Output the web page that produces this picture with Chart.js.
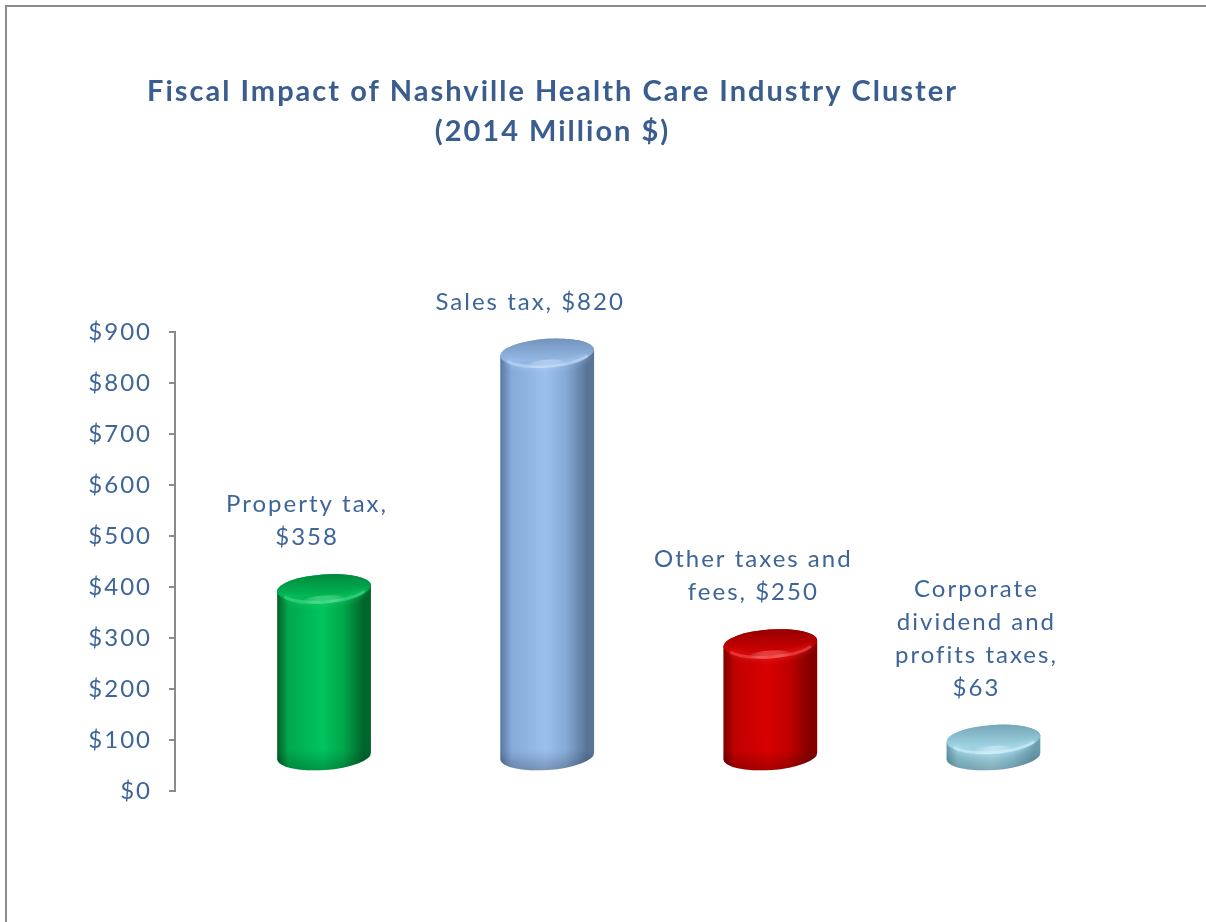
<!DOCTYPE html>
<html>
<head>
<meta charset="utf-8">
<title>Fiscal Impact of Nashville Health Care Industry Cluster</title>
<script src="https://cdn.jsdelivr.net/npm/chart.js@4.4.1/dist/chart.umd.min.js"></script>
<style>
  html, body { margin: 0; padding: 0; background: #fff; overflow: hidden; }
  #wrap { position: relative; width: 1206px; height: 922px; }
  #frame {
    position: absolute; left: 5px; top: 5px; width: 1300px; height: 1000px;
    border-top: 2px solid #8c8c8c; border-left: 2px solid #8c8c8c;
    pointer-events: none;
  }
</style>
</head>
<body>
<div id="wrap">
  <canvas id="chart"></canvas>
  <div id="frame"></div>
</div>
<script>
// revenue by tax type, million dollars (2014)
const categories = ['Property tax', 'Sales tax', 'Other taxes and fees', 'Corporate dividend and profits taxes'];
const revenue = [358, 820, 250, 63];
const titleLines = ['Fiscal Impact of Nashville Health Care Industry Cluster', '(2014 Million $)'];
const yMax = 900;
const yStep = 100;

// shading for each cylinder: side gradient stops + cap colours
const palettes = [
  { edgeL: '#005f28', side: '#00a84c', hi: '#00c45c', edgeR: '#00662c', capBack: '#008a3e', capFront: '#00b552', rim: '#3ee08a' },
  { edgeL: '#56779f', side: '#86aad7', hi: '#9cc0ee', edgeR: '#587598', capBack: '#7393bb', capFront: '#93b7e4', rim: '#c4dcfa' },
  { edgeL: '#7a0000', side: '#c00000', hi: '#d80000', edgeR: '#840000', capBack: '#960000', capFront: '#cc0000', rim: '#ff5050' },
  { edgeL: '#6497a8', side: '#8fc6d8', hi: '#a6dbea', edgeR: '#6a9cac', capBack: '#74a7b7', capFront: '#9dd2e2', rim: '#d6f4ff' }
];

const textBlue = '#3d6599';
const labelFont = '24px Lato';
const spacing = '2px';

function wrapText(ctx, text, maxWidth) {
  const words = text.split(' ');
  const lines = [];
  let line = '';
  for (const w of words) {
    const test = line ? line + ' ' + w : w;
    if (line && ctx.measureText(test).width > maxWidth) {
      lines.push(line);
      line = w;
    } else {
      line = test;
    }
  }
  if (line) lines.push(line);
  return lines;
}

function ellipsePoint(cx, cy, rx, ry, t, a) {
  return [cx + rx * Math.cos(a) * Math.cos(t) - ry * Math.sin(a) * Math.sin(t),
          cy + rx * Math.cos(a) * Math.sin(t) + ry * Math.sin(a) * Math.cos(t)];
}

// wider tracking for all chart text
const tracking = {
  id: 'tracking',
  beforeDraw(chart) { chart.ctx.letterSpacing = spacing; }
};

// draws each bar as a shaded 3d cylinder, then its data label
const cylinders = {
  id: 'cylinders',
  afterDatasetsDraw(chart) {
    const ctx = chart.ctx;
    const meta = chart.getDatasetMeta(0);
    meta.data.forEach((bar, i) => {
      const p = palettes[i];
      const x = bar.x;
      const rx = bar.width / 2;
      const ry = 14;
      const tilt = -0.07;
      const topY = bar.y - 20;
      const botY = bar.base - 34;

      ctx.save();

      // side wall
      const side = ctx.createLinearGradient(x - rx, 0, x + rx, 0);
      side.addColorStop(0, p.edgeL);
      side.addColorStop(0.12, p.side);
      side.addColorStop(0.48, p.hi);
      side.addColorStop(0.7, p.side);
      side.addColorStop(0.92, p.edgeR);
      side.addColorStop(1, p.edgeR);
      ctx.beginPath();
      ctx.ellipse(x, botY, rx, ry, tilt, 0, Math.PI);
      const tl = ellipsePoint(x, topY, rx, ry, tilt, Math.PI);
      ctx.lineTo(tl[0], tl[1]);
      ctx.ellipse(x, topY, rx, ry, tilt, Math.PI, Math.PI * 2);
      ctx.closePath();
      ctx.fillStyle = side;
      ctx.fill();

      // darker rounding at the foot
      ctx.save();
      ctx.clip();
      const foot = ctx.createLinearGradient(0, botY - 6, 0, botY + ry);
      foot.addColorStop(0, 'rgba(0,0,0,0)');
      foot.addColorStop(1, 'rgba(0,0,0,0.22)');
      ctx.fillStyle = foot;
      ctx.fillRect(x - rx - 2, botY - 6, rx * 2 + 4, ry * 2 + 8);
      ctx.restore();

      // top cap
      const cap = ctx.createLinearGradient(0, topY - ry, 0, topY + ry);
      cap.addColorStop(0, p.capBack);
      cap.addColorStop(0.75, p.capFront);
      cap.addColorStop(1, p.side);
      ctx.beginPath();
      ctx.ellipse(x, topY, rx, ry, tilt, 0, Math.PI * 2);
      ctx.fillStyle = cap;
      ctx.fill();

      // soft rim highlight on the front edge of the cap
      ctx.beginPath();
      ctx.ellipse(x, topY + 1, rx * 0.92, ry * 0.9, tilt, Math.PI * 0.12, Math.PI * 0.88);
      ctx.strokeStyle = p.rim;
      ctx.globalAlpha = 0.55;
      ctx.lineWidth = 3;
      ctx.shadowColor = p.rim;
      ctx.shadowBlur = 6;
      ctx.stroke();
      ctx.globalAlpha = 1;
      ctx.shadowBlur = 0;

      const spot = ctx.createRadialGradient(x, topY + ry - 2, 0, x, topY + ry - 2, rx * 0.45);
      spot.addColorStop(0, p.rim);
      spot.addColorStop(1, 'rgba(255,255,255,0)');
      ctx.beginPath();
      ctx.ellipse(x, topY + ry - 3, rx * 0.45, 4, tilt, 0, Math.PI * 2);
      ctx.globalAlpha = 0.6;
      ctx.fillStyle = spot;
      ctx.fill();
      ctx.globalAlpha = 1;

      // data label
      ctx.font = labelFont;
      ctx.letterSpacing = spacing;
      ctx.fillStyle = textBlue;
      ctx.textAlign = 'center';
      ctx.textBaseline = 'middle';
      const lines = wrapText(ctx, categories[i] + ', $' + revenue[i], 210);
      const lineH = 33;
      const lastY = topY - ry - 37;
      lines.forEach((ln, k) => {
        ctx.fillText(ln, x - 17, lastY - (lines.length - 1 - k) * lineH);
      });

      ctx.restore();
    });
  }
};

new Chart(document.getElementById('chart'), {
  type: 'bar',
  data: {
    datasets: [{
      data: revenue.map((v, i) => ({ x: i, y: v })),
      backgroundColor: 'rgba(0,0,0,0)',
      borderWidth: 0,
      barThickness: 94
    }]
  },
  options: {
    responsive: true,
    maintainAspectRatio: false,
    animation: false,
    layout: { padding: { top: 0, left: 0, right: 101, bottom: 131 } },
    plugins: {
      legend: { display: false },
      tooltip: { enabled: false },
      title: {
        display: true,
        text: titleLines,
        color: '#3a5d8f',
        font: { family: 'Lato', size: 29, weight: 'bold', lineHeight: 40 / 29 },
        padding: { top: 72, bottom: 180 }
      }
    },
    scales: {
      x: {
        type: 'linear',
        min: -0.668,
        max: 3.5,
        offset: false,
        display: false
      },
      y: {
        min: 0,
        max: yMax,
        afterFit(scale) { scale.width = 175; },
        ticks: {
          stepSize: yStep,
          color: textBlue,
          padding: 17,
          font: { family: 'Lato', size: 24 },
          callback: v => '$' + v
        },
        grid: {
          drawOnChartArea: false,
          drawTicks: true,
          tickLength: 6,
          color: '#8a8a8a',
          lineWidth: 2
        },
        border: { display: true, color: '#8a8a8a', width: 2 }
      }
    }
  },
  plugins: [tracking, cylinders]
});
</script>
</body>
</html>
